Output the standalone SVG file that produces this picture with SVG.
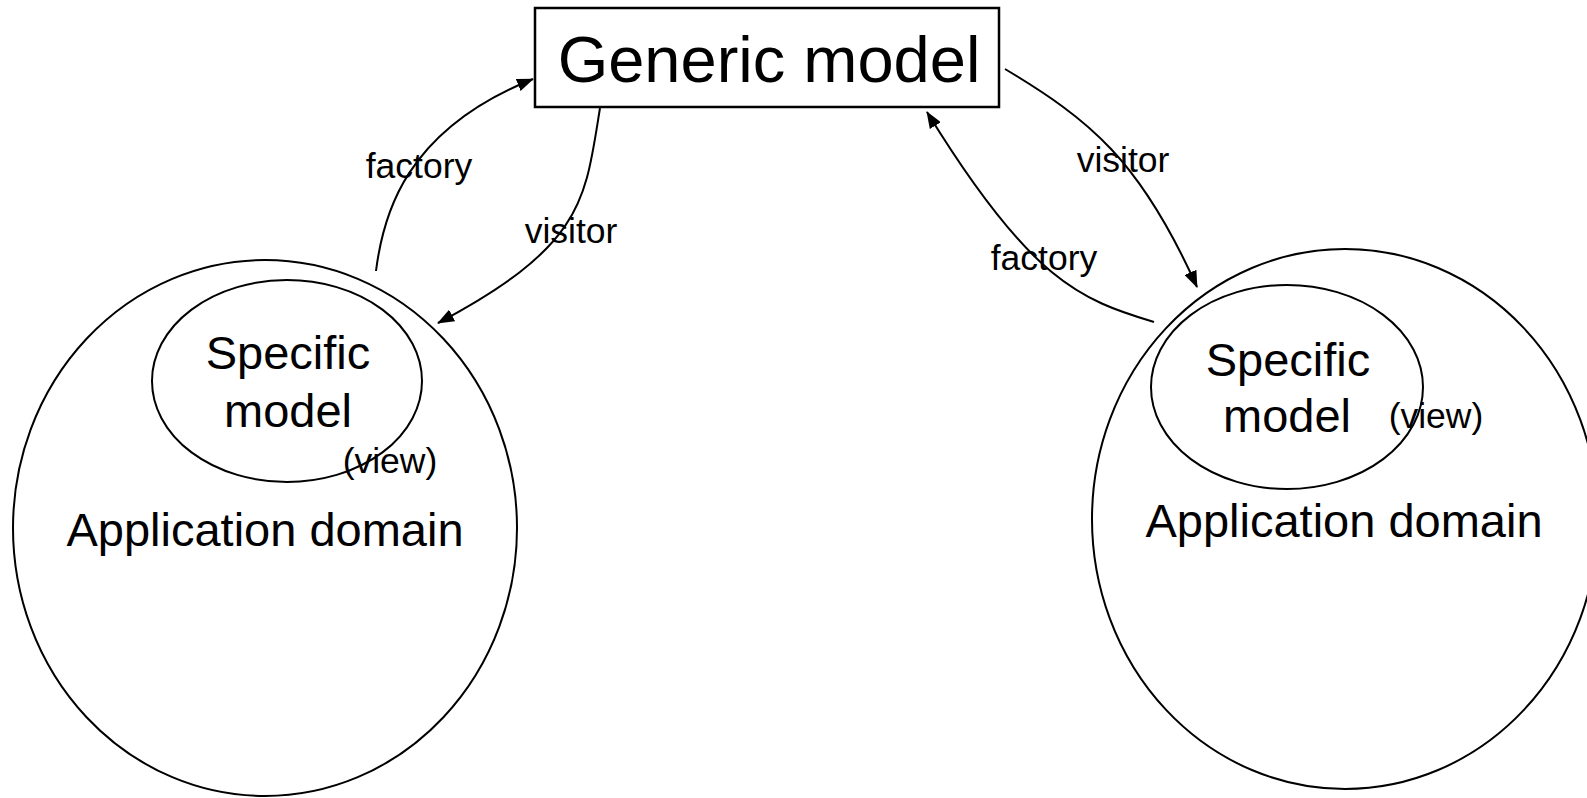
<svg xmlns="http://www.w3.org/2000/svg" width="1587" height="798" viewBox="0 0 1587 798">
<style>
.shape{fill:none;stroke:#000;stroke-width:2}
.box{fill:none;stroke:#000;stroke-width:2.5}
.conn{fill:none;stroke:#000;stroke-width:2;marker-end:url(#ah)}
text{font-family:"Liberation Sans",Arial,sans-serif;fill:#000;text-anchor:middle}
.big{font-size:65px}
.mid{font-size:47px}
.lbl{font-size:35.5px}
</style>
<defs>
<marker id="ah" markerUnits="userSpaceOnUse" markerWidth="18" markerHeight="13" refX="16" refY="6.5" orient="auto">
<path d="M0,0 L17,6.5 L0,13 Z" fill="#000"/>
</marker>
</defs>
<rect width="1587" height="798" fill="#fff"/>
<g id="generic-model">
<rect class="box" x="535" y="8" width="464" height="99"/>
<text class="big" x="769" y="82">Generic model</text>
</g>
<g id="left-domain">
<ellipse class="shape" cx="265" cy="528" rx="252" ry="268"/>
<text class="mid" x="265" y="546">Application domain</text>
</g>
<g id="left-specific">
<ellipse class="shape" cx="287" cy="381" rx="135" ry="101"/>
<text class="mid" x="288" y="369">Specific</text>
<text class="mid" x="288" y="427">model</text>
<text class="lbl" x="390" y="473">(view)</text>
</g>
<g id="right-domain">
<ellipse class="shape" cx="1345" cy="519" rx="253" ry="270"/>
<text class="mid" x="1344" y="537">Application domain</text>
</g>
<g id="right-specific">
<ellipse class="shape" cx="1287" cy="387" rx="136" ry="102"/>
<text class="mid" x="1288" y="376">Specific</text>
<text class="mid" x="1287" y="432">model</text>
<text class="lbl" x="1436" y="428">(view)</text>
</g>
<g id="connectors">
<path class="conn" d="M376,271 C383,215 405,130 533,79"/>
<path class="conn" d="M600,108 C585,200 585,245 438,323"/>
<path class="conn" d="M1005,69 C1090,120 1140,160 1197,287"/>
<path class="conn" d="M1154,322 C1080,300 1030,280 927,112"/>
<text class="lbl" x="419" y="178">factory</text>
<text class="lbl" x="571" y="243">visitor</text>
<text class="lbl" x="1123" y="172">visitor</text>
<text class="lbl" x="1044" y="270">factory</text>
</g>
</svg>
